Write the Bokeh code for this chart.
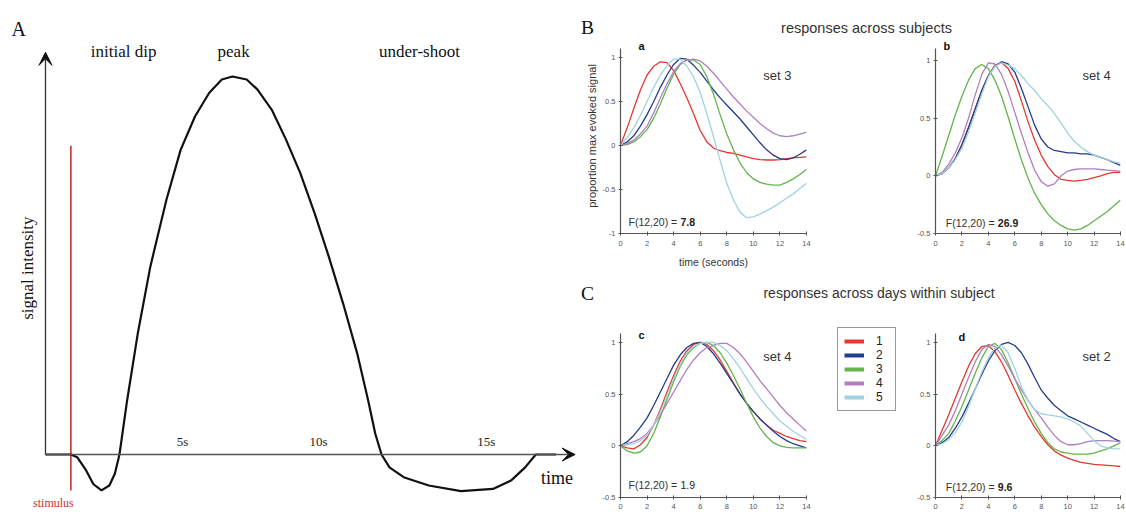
from bokeh.plotting import figure
from bokeh.layouts import row, column
from bokeh.models import (Range1d, Label, Arrow, VeeHead, Legend, LegendItem,
                          FixedTicker, CustomJSTickFormatter, Grid)
from bokeh.embed import file_html
from bokeh.resources import INLINE
from bokeh.core.properties import value

# ---------------- Panel A: schematic haemodynamic response ----------------
hrf_t = [0, 0.93, 1.16, 1.49, 1.75, 2.05, 2.34, 2.54, 2.71, 2.99, 3.38, 3.84, 4.43,
         4.95, 5.48, 6.0, 6.46, 6.85, 7.37, 7.76, 8.29, 8.81, 9.33, 9.86, 10.38,
         10.9, 11.42, 11.82, 12.08, 12.31, 12.6, 13.12, 14.04, 15.22, 16.39, 17.05,
         17.57, 17.96, 18.7]
hrf_s = [0, 0, -0.007, -0.042, -0.078, -0.095, -0.082, -0.051, 0, 0.143, 0.32, 0.497,
         0.674, 0.806, 0.895, 0.957, 0.992, 1.0, 0.992, 0.966, 0.912, 0.833, 0.745,
         0.638, 0.523, 0.4, 0.267, 0.143, 0.055, 0, -0.034, -0.06, -0.082, -0.097,
         -0.091, -0.069, -0.034, 0, 0]
stim_t = [0.93, 0.93]
stim_s = [-0.095, 0.817]
a_tick_pos = [5.02, 10.0, 16.15]
a_tick_text = ["5s", "10s", "15s"]
phase_text = ["initial dip", "peak", "under-shoot"]
phase_pos = [2.86, 6.89, 13.7]

# ---------------- Panels a-d: responses (proportion of max evoked signal) ----------------
time_s = [0, 0.5, 1, 1.5, 2, 2.5, 3, 3.5, 4, 4.5, 5, 5.5, 6, 6.5, 7, 7.5, 8, 8.5, 9,
          9.5, 10, 10.5, 11, 11.5, 12, 12.5, 13, 13.5, 14]
series_names = ["1", "2", "3", "4", "5"]
series_colors = ["#e5382e", "#243c8c", "#63b54b", "#b07fc0", "#9fd3de"]

a_1 = [0, 0.2, 0.42, 0.63, 0.8, 0.9, 0.95, 0.94, 0.85, 0.7, 0.54, 0.36, 0.17, 0.04, -0.03,
       -0.06, -0.08, -0.09, -0.11, -0.13, -0.15, -0.16, -0.165, -0.165, -0.16, -0.15,
       -0.14, -0.135, -0.13]
a_2 = [0, 0.04, 0.11, 0.22, 0.35, 0.5, 0.66, 0.8, 0.92, 0.99, 0.98, 0.91, 0.83, 0.73,
       0.63, 0.54, 0.46, 0.38, 0.3, 0.21, 0.12, 0.03, -0.05, -0.11, -0.15, -0.16, -0.14,
       -0.1, -0.05]
a_3 = [0, 0.01, 0.04, 0.1, 0.18, 0.31, 0.47, 0.65, 0.81, 0.92, 0.975, 0.97, 0.92, 0.78,
       0.58, 0.35, 0.13, -0.05, -0.2, -0.31, -0.38, -0.42, -0.44, -0.45, -0.45, -0.42,
       -0.38, -0.33, -0.27]
a_4 = [0, 0.02, 0.06, 0.13, 0.22, 0.37, 0.54, 0.7, 0.84, 0.93, 0.97, 0.98, 0.96, 0.9,
       0.82, 0.73, 0.64, 0.55, 0.47, 0.39, 0.32, 0.25, 0.19, 0.14, 0.11, 0.1, 0.11,
       0.13, 0.15]
a_5 = [0, 0.09, 0.2, 0.34, 0.5, 0.66, 0.8, 0.91, 0.98, 0.98, 0.9, 0.78, 0.6, 0.36, 0.1,
       -0.17, -0.43, -0.62, -0.76, -0.82, -0.81, -0.78, -0.74, -0.7, -0.65, -0.6, -0.55,
       -0.49, -0.43]

b_1 = [0, 0.02, 0.07, 0.15, 0.27, 0.42, 0.58, 0.74, 0.87, 0.96, 0.98, 0.93, 0.82, 0.65,
       0.47, 0.31, 0.18, 0.08, 0.01, -0.03, -0.04, -0.045, -0.04, -0.03, -0.015, 0.0,
       0.02, 0.03, 0.03]
b_2 = [0, 0.02, 0.07, 0.15, 0.27, 0.42, 0.58, 0.74, 0.87, 0.95, 0.99, 0.97, 0.9, 0.76,
       0.6, 0.44, 0.32, 0.25, 0.22, 0.21, 0.2, 0.2, 0.19, 0.19, 0.18, 0.16, 0.14, 0.115,
       0.09]
b_3 = [0, 0.17, 0.35, 0.53, 0.69, 0.83, 0.93, 0.965, 0.93, 0.83, 0.69, 0.51, 0.32, 0.14,
       -0.02, -0.15, -0.25, -0.33, -0.39, -0.43, -0.46, -0.47, -0.46, -0.43, -0.39,
       -0.35, -0.31, -0.26, -0.21]
b_4 = [0, 0.03, 0.1, 0.2, 0.33, 0.5, 0.7, 0.88, 0.98, 0.97, 0.88, 0.73, 0.55, 0.37, 0.2,
       0.05, -0.05, -0.09, -0.07, 0.0, 0.04, 0.055, 0.06, 0.06, 0.06, 0.055, 0.05, 0.045,
       0.04]
b_5 = [0, 0.02, 0.07, 0.14, 0.24, 0.38, 0.54, 0.71, 0.86, 0.95, 0.98, 0.96, 0.93, 0.87,
       0.8, 0.74, 0.67, 0.61, 0.54, 0.46, 0.37, 0.3, 0.25, 0.21, 0.18, 0.16, 0.14, 0.12,
       0.11]

c_1 = [0, -0.02, -0.03, 0.01, 0.08, 0.2, 0.35, 0.52, 0.68, 0.82, 0.92, 0.98, 1.0, 0.98,
       0.92, 0.83, 0.72, 0.61, 0.5, 0.41, 0.33, 0.26, 0.2, 0.15, 0.12, 0.09, 0.07, 0.05,
       0.04]
c_2 = [0, 0.04, 0.1, 0.18, 0.27, 0.39, 0.52, 0.65, 0.78, 0.88, 0.95, 0.99, 1.0, 0.96,
       0.89, 0.8, 0.7, 0.6, 0.5, 0.41, 0.33, 0.26, 0.2, 0.14, 0.09, 0.05, 0.02, 0.0,
       -0.02]
c_3 = [0, -0.05, -0.07, -0.06, 0.0, 0.12, 0.28, 0.45, 0.62, 0.77, 0.88, 0.95, 0.99, 1.0,
       0.97, 0.9, 0.8, 0.68, 0.55, 0.41, 0.28, 0.17, 0.09, 0.03, 0.0, -0.015, -0.02,
       -0.02, -0.02]
c_4 = [0, 0.02, 0.04, 0.07, 0.12, 0.2, 0.3, 0.41, 0.52, 0.63, 0.74, 0.83, 0.9, 0.95,
       0.97, 0.99, 0.99, 0.95, 0.89, 0.81, 0.72, 0.63, 0.55, 0.47, 0.39, 0.32, 0.26, 0.2,
       0.14]
c_5 = [0, 0.01, 0.02, 0.05, 0.1, 0.2, 0.33, 0.49, 0.65, 0.79, 0.9, 0.96, 0.99, 1.0, 1.0,
       0.97, 0.92, 0.84, 0.75, 0.65, 0.55, 0.46, 0.38, 0.31, 0.24, 0.19, 0.14, 0.1, 0.06]

d_1 = [0, 0.15, 0.3, 0.46, 0.62, 0.77, 0.89, 0.96, 0.97, 0.91, 0.81, 0.68, 0.54, 0.41,
       0.29, 0.18, 0.09, 0.01, -0.05, -0.09, -0.12, -0.14, -0.16, -0.17, -0.18, -0.185,
       -0.19, -0.195, -0.2]
d_2 = [0, 0.03, 0.08, 0.17, 0.28, 0.41, 0.55, 0.69, 0.82, 0.92, 0.98, 1.0, 0.97, 0.9,
       0.79, 0.66, 0.54, 0.46, 0.39, 0.34, 0.29, 0.26, 0.23, 0.2, 0.17, 0.14, 0.11, 0.07,
       0.04]
d_3 = [0, 0.05, 0.12, 0.24, 0.38, 0.54, 0.7, 0.85, 0.96, 0.99, 0.93, 0.8, 0.65, 0.5, 0.36,
       0.23, 0.12, 0.03, -0.03, -0.06, -0.07, -0.08, -0.08, -0.08, -0.07, -0.05, -0.03,
       0.0, 0.03]
d_4 = [0, 0.1, 0.2, 0.34, 0.5, 0.66, 0.81, 0.93, 0.98, 0.96, 0.88, 0.77, 0.65, 0.54,
       0.44, 0.35, 0.27, 0.18, 0.1, 0.04, 0.01, 0.01, 0.02, 0.04, 0.05, 0.05, 0.05, 0.045,
       0.04]
d_5 = [0, 0.02, 0.06, 0.13, 0.23, 0.38, 0.55, 0.71, 0.85, 0.95, 0.97, 0.9, 0.75, 0.57,
       0.44, 0.35, 0.31, 0.3, 0.29, 0.28, 0.26, 0.23, 0.19, 0.12, 0.05, 0.0, -0.02, -0.03,
       -0.03]

x_ticks = [0, 2, 4, 6, 8, 10, 12, 14]
y_ticks_a = [-1, -0.5, 0, 0.5, 1]
y_ticks_b = [-0.5, 0, 0.5, 1]

SERIF = "Liberation Serif"
SANS = "Liberation Sans"


def drop_grids(p):
    p.center = [c for c in p.center if not isinstance(c, Grid)]


def bare_fig(width, height, xr, yr, **kw):
    opts = dict(min_border=0)
    opts.update(kw)
    p = figure(width=width, height=height, x_range=xr, y_range=yr,
               x_axis_location=None, y_axis_location=None,
               toolbar_location=None, output_backend="svg",
               outline_line_color=None, background_fill_color="white",
               border_fill_color="white", **opts)
    drop_grids(p)
    return p


def lab(p, x, y, text, size, font=SANS, style="normal", color="#222", align="center",
        angle=0, x_offset=0):
    p.add_layout(Label(x=x, y=y, text=text, text_font=font, text_font_size=size,
                       text_font_style=style, text_color=color, text_align=align,
                       text_baseline="middle", angle=angle, x_offset=x_offset))


# ---------- Figure A ----------
pA = bare_fig(576, 512, Range1d(-1.648, 19.451), Range1d(-0.1534, 1.2011))
pA.add_layout(Arrow(end=VeeHead(size=13, fill_color="#111", line_color="#111"),
                    x_start=0, y_start=0, x_end=0, y_end=1.064,
                    line_color="#333", line_width=1.3))
pA.add_layout(Arrow(end=VeeHead(size=13, fill_color="#111", line_color="#111"),
                    x_start=0, y_start=0, x_end=19.4, y_end=0,
                    line_color="#555", line_width=1.3))
pA.line(stim_t, stim_s, line_color="#c9342c", line_width=1.6)
pA.line(hrf_t, hrf_s, line_color="#111", line_width=2.2)
pA.text(x=a_tick_pos, y=[0.035] * len(a_tick_pos), text=a_tick_text,
        text_font=value(SERIF), text_font_size=value("13px"), text_color="#222",
        text_align="center", text_baseline="middle")
pA.text(x=phase_pos, y=[1.066] * len(phase_pos), text=phase_text,
        text_font=value(SERIF), text_font_size=value("17px"), text_color="#111",
        text_align="center", text_baseline="middle")
lab(pA, -0.98, 1.126, "A", "20px", font=SERIF, color="#111")
lab(pA, -0.66, 0.493, "signal intensity", "17px", font=SERIF, color="#111", angle=1.5708)
lab(pA, 0.29, -0.127, "stimulus", "12px", font=SERIF, color="#c9342c")
lab(pA, 18.74, -0.063, "time", "18px", font=SERIF, color="#111")


# ---------- panels a-d ----------
def panel(width, height, left, right, top, bottom, y_lo, y_hi, y_axis_top, y_ticks,
          series, label_standoff):
    p = figure(width=width, height=height, x_range=Range1d(0, 14),
               y_range=Range1d(y_lo, y_hi), toolbar_location=None,
               output_backend="svg", min_border_left=left, min_border_right=right,
               min_border_top=top, min_border_bottom=bottom,
               outline_line_color=None, background_fill_color="white",
               border_fill_color="white")
    drop_grids(p)
    p.xaxis.ticker = FixedTicker(ticks=x_ticks)
    p.yaxis.ticker = FixedTicker(ticks=y_ticks)
    p.yaxis[0].bounds = (y_lo, y_axis_top)
    for ax in (p.xaxis[0], p.yaxis[0]):
        ax.formatter = CustomJSTickFormatter(code="return tick.toString();")
        ax.axis_line_color = "#555"
        ax.axis_line_width = 1.2
        ax.major_tick_line_color = "#555"
        ax.major_tick_in = 2
        ax.major_tick_out = 2
        ax.minor_tick_line_color = None
        ax.major_label_text_font = SANS
        ax.major_label_text_font_size = "7.5px"
        ax.major_label_text_color = "#555"
        ax.axis_label_text_font = SANS
        ax.axis_label_text_font_style = "normal"
        ax.axis_label_text_color = "#333"
    p.xaxis[0].major_label_standoff = label_standoff
    p.yaxis[0].major_label_standoff = 3
    for ys, col in zip(series, series_colors):
        p.line(time_s, ys, line_color=col, line_width=1.3)
    return p


def annotate(p, letter, lxy, setname, sxy, fval, fbold, fxy):
    lab(p, lxy[0], lxy[1], letter, "11px", style="bold", color="#111")
    lab(p, sxy[0], sxy[1], setname, "13px", color="#333")
    lab(p, fxy[0], fxy[1], "F(12,20) = ", "10.5px", color="#333", align="left")
    lab(p, fxy[0], fxy[1], fval, "10.5px", style="bold" if fbold else "normal",
        color="#222", align="left", x_offset=52)


pa = panel(319, 234, 44, 89, 0, 38, -1, 1.2147, 1.1, y_ticks_a,
           [a_1, a_2, a_3, a_4, a_5], 5)
pa.xaxis[0].axis_label = "time (seconds)"
pa.xaxis[0].axis_label_text_font_size = "10.5px"
pa.xaxis[0].axis_label_standoff = 7
pa.yaxis[0].axis_label = "proportion max evoked signal"
pa.yaxis[0].axis_label_text_font_size = "11px"
pa.yaxis[0].axis_label_standoff = 2
annotate(pa, "a", (1.58, 1.13), "set 3", (11.8, 0.797), "7.8", True, (0.6, -0.864))

pb = panel(231, 234, 40, 6, 0, 39, -0.5, 1.191, 1.1, y_ticks_b,
           [b_1, b_2, b_3, b_4, b_5], 5)
annotate(pb, "b", (0.86, 1.125), "set 4", (12.2, 0.87), "26.9", True, (0.78, -0.405))

pc = panel(250, 206, 44, 20, 0, 15, -0.5, 1.144, 1.09, y_ticks_b,
           [c_1, c_2, c_3, c_4, c_5], 4)
annotate(pc, "c", (1.58, 1.075), "set 4", (11.8, 0.868), "1.9", False, (0.6, -0.38))

pd_ = panel(221, 206, 30, 6, 0, 15, -0.5, 1.144, 1.09, y_ticks_b,
            [d_1, d_2, d_3, d_4, d_5], 4)
annotate(pd_, "d", (1.99, 1.05), "set 2", (12.2, 0.868), "9.6", True, (0.78, -0.40))

# ---------- legend ----------
pL = bare_fig(79, 206, Range1d(0, 1), Range1d(0, 1),
              min_border_left=11, min_border_top=21, min_border_right=0,
              min_border_bottom=0)
items = []
for name, col in zip(series_names, series_colors):
    r = pL.line(x=[float("nan")], y=[float("nan")], line_color=col, line_width=4)
    items.append(LegendItem(label=name, renderers=[r]))
leg = Legend(items=items, location="top_left", padding=6, spacing=0, margin=0,
             glyph_width=20, glyph_height=12, label_height=12, label_width=13,
             label_standoff=12,
             label_text_font=SANS, label_text_font_size="12px",
             label_text_color="#222", label_text_line_height=1.0,
             border_line_color="#333", border_line_width=1.3,
             background_fill_color="white", background_fill_alpha=1.0)
pL.add_layout(leg)

# ---------- titles ----------
tB = bare_fig(550, 38, Range1d(0, 550), Range1d(0, 38))
lab(tB, 11, 11, "B", "19.5px", font=SERIF, color="#111")
lab(tB, 290, 11, "responses across subjects", "14.5px", color="#333")

tC = bare_fig(550, 34, Range1d(0, 550), Range1d(0, 34))
lab(tC, 11, 13, "C", "19.5px", font=SERIF, color="#111")
lab(tC, 302.5, 14, "responses across days within subject", "14px", color="#333")

right = column(tB, row(pa, pb), tC, row(pc, pL, pd_))
layout = row(pA, right)

open("out.html", "w").write(file_html(layout, INLINE))
